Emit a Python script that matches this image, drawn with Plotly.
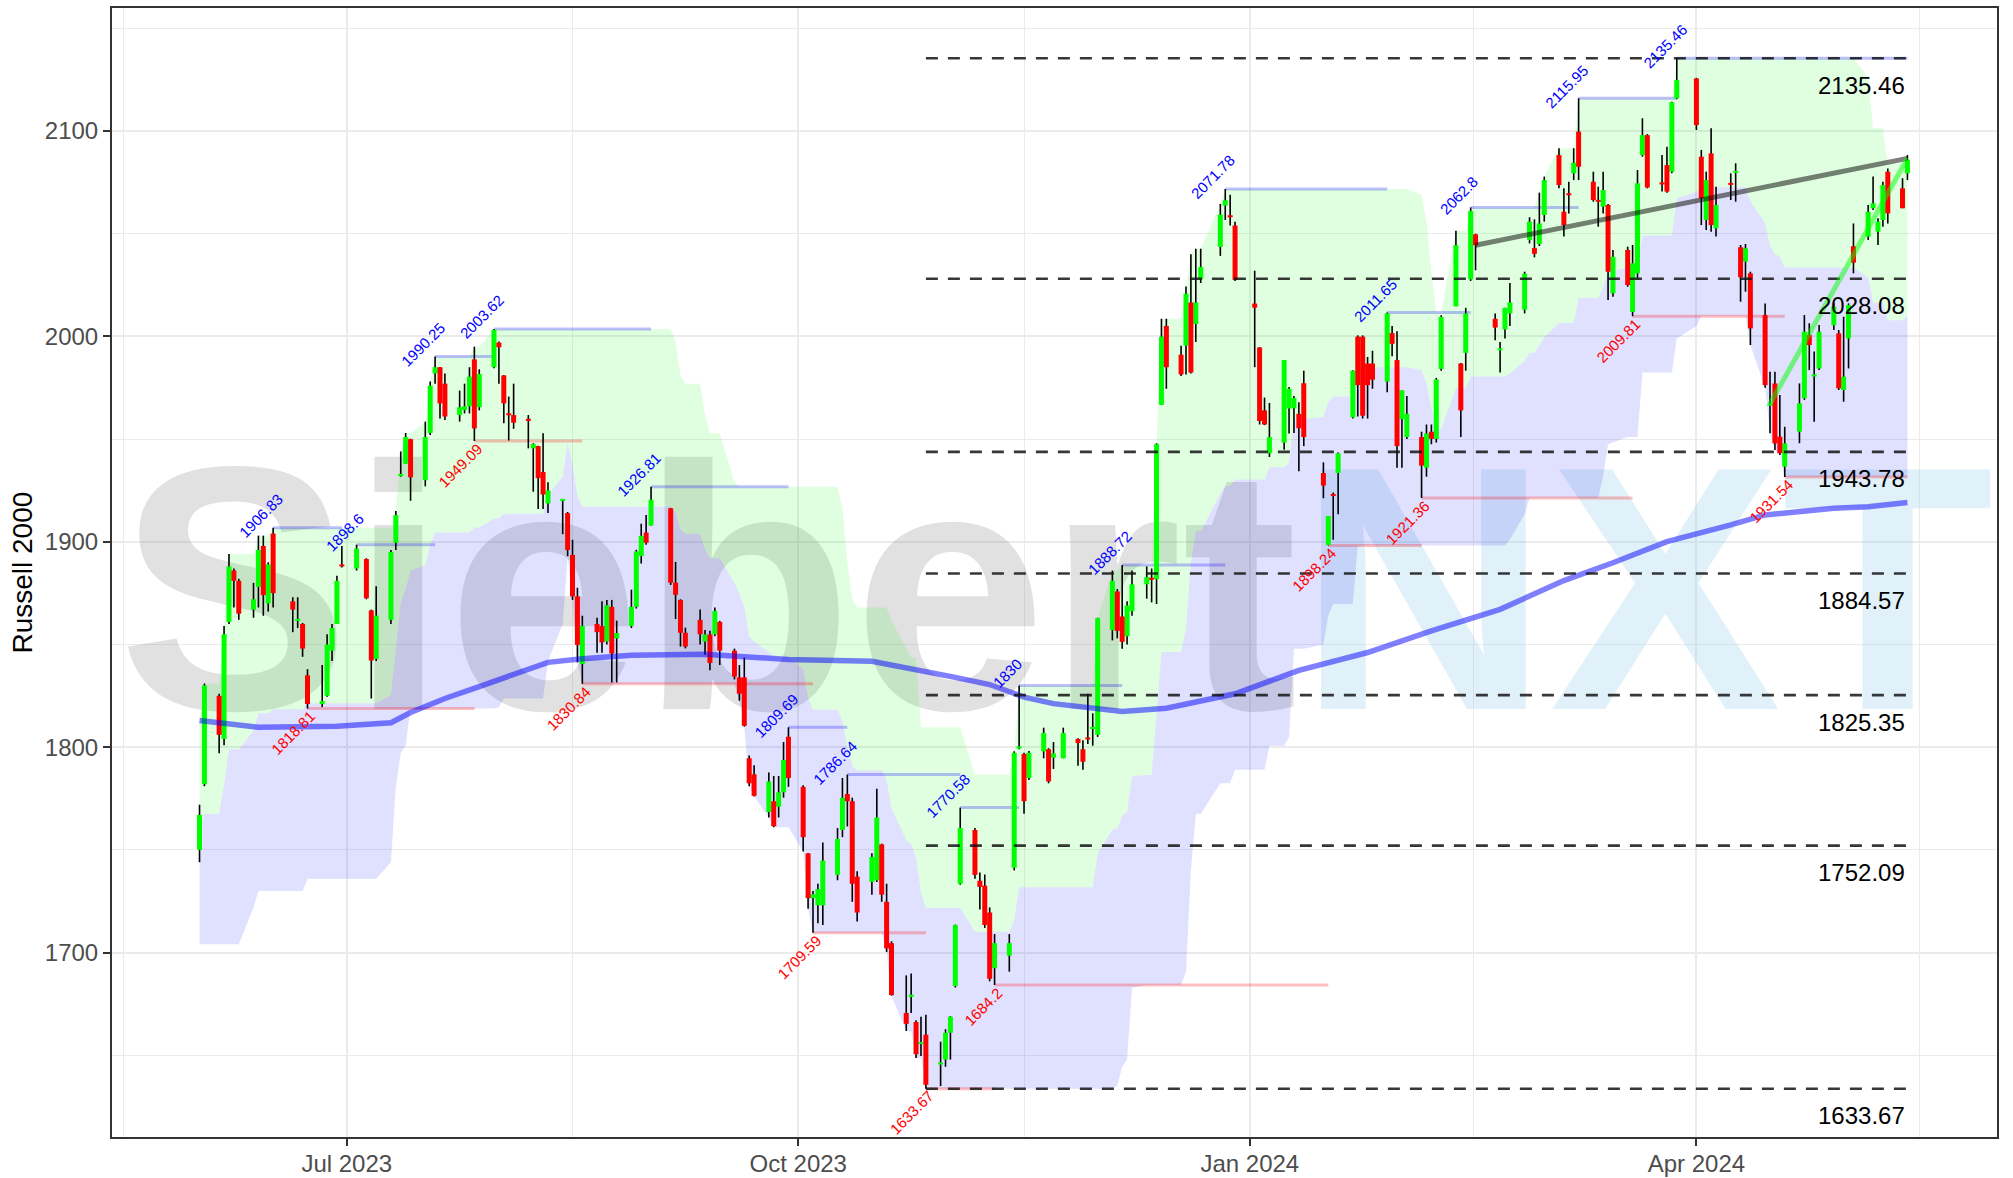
import math
import pandas as pd
import plotly.graph_objects as go

# ---------------- data ----------------
holidays = ["2023-05-29", "2023-06-19", "2023-07-04", "2023-09-04", "2023-11-23",
            "2023-12-25", "2024-01-01", "2024-01-15", "2024-02-19", "2024-03-29"]

def trading_days(a, b):
    return [d for d in pd.bdate_range(a, b) if d.strftime("%Y-%m-%d") not in holidays]

dates = trading_days("2023-06-01", "2024-05-14")
warm_dates = trading_days("2023-04-26", "2023-05-31")   # warm-up for the 26-day channel

# warm-up OHLC (not drawn, only feeds the rolling channel)
warm_open  = [1760, 1755, 1786, 1788, 1772, 1746, 1740, 1725, 1755, 1760, 1755, 1756, 1746,
              1745, 1765, 1740, 1762, 1770, 1772, 1775, 1752, 1752, 1755, 1775, 1755]
warm_high  = [1768, 1790, 1812, 1795, 1775, 1760, 1745, 1758, 1768, 1765, 1768, 1760, 1755,
              1770, 1767, 1765, 1775, 1780, 1785, 1778, 1760, 1762, 1778, 1778, 1760]
warm_low   = [1748, 1752, 1778, 1770, 1740, 1738, 1704, 1722, 1750, 1748, 1745, 1738, 1738,
              1742, 1730, 1738, 1755, 1762, 1765, 1752, 1740, 1742, 1752, 1750, 1736]
warm_close = [1752, 1786, 1790, 1775, 1745, 1742, 1720, 1755, 1762, 1752, 1758, 1745, 1742,
              1768, 1733, 1762, 1770, 1772, 1778, 1756, 1750, 1755, 1774, 1758, 1749]

opens = [
    # Jun 2023
    1750, 1782, 1825, 1804, 1861, 1886, 1881, 1867, 1878, 1898, 1870, 1904, 1871, 1861.5, 1860, 1835, 1821, 1825, 1847, 1860, 1889,
    # Jul
    1887, 1891.6, 1866.6, 1843, 1862, 1899.5, 1932, 1938, 1950, 1930, 1953, 1982, 1985, 1977, 1961.7, 1964.2, 1966, 1988.8, 1965.5, 1985,
    # Aug
    1997, 1981, 1962.5, 1961.7, 1959.5, 1945.5, 1946.6, 1934, 1918.7, 1920.2, 1914, 1893.6, 1873.4, 1840.5, 1860, 1859, 1851.4, 1868.3, 1853, 1859, 1868.3, 1893, 1904.5,
    # Sep
    1907.9, 1916.3, 1880.1, 1871.7, 1855.7, 1862, 1851.4, 1854.9, 1854.9, 1861, 1847, 1834, 1834, 1794.6, 1786.8, 1768.4, 1773.7, 1771, 1778, 1805.1,
    # Oct
    1780.7, 1748.3, 1726.5, 1723, 1723, 1737.8, 1759.7, 1777.2, 1773.7, 1737, 1734.4, 1735.2, 1752.7, 1724.7, 1704.6, 1670.6, 1678.4, 1666.2, 1655.6, 1660, 1645.5, 1647.9,
    # Nov
    1661, 1683.7, 1733.5, 1759.7, 1735, 1732.6, 1719.5, 1692.4, 1698.5, 1741.3, 1799.4, 1796.7, 1785, 1798, 1799, 1794.9, 1794.6, 1804, 1799, 1804.5, 1808.9,
    # Dec
    1806, 1857, 1875.8, 1863.6, 1854, 1866.2, 1879.3, 1882.5, 1881.9, 1966.7, 2005.1, 1991.1, 1995.5, 2016.5, 2006, 2027.8, 2043.6, 2063.7, 2059, 2054,
    # Jan 2024
    2016, 1994.6, 1964, 1943.1, 1948.3, 1964.9, 1965, 1962.3, 1977.2, 1933.5, 1898.5, 1923, 1933.5, 1960.6, 1999.9, 1999.9, 1986.8, 1986.8, 1978, 2001.6, 1988.5,
    # Feb
    1959.7, 1951, 1951, 1936.1, 1953.6, 1950.1, 1984.2, 2014.7, 1986.8, 1992, 2027.8, 2049.7, 2008.6, 1993.6, 2003.4, 2011.2, 2013, 2047, 2043, 2045,
    # Mar
    2059.1, 2088.3, 2060.7, 2069.6, 2079.4, 2099.7, 2075.3, 2066.4, 2063.2, 2064, 2021, 2042.1, 2011.9, 2030.7, 2088.3, 2098, 2075, 2083.4, 2080.2, 2115.9,
    # Apr
    2125.6, 2087.5, 2056.7, 2089.1, 2052.6, 2074.5, 2079.8, 2043.4, 2036.4, 2030.7, 2010.4, 1966.4, 1977.1, 1951.2, 1936.6, 1953.6, 1969.9, 2000.7, 1980.8, 1984.4, 2005.5, 2001.5,
    # May
    1973.9, 1999, 2043.9, 2048.6, 2062.4, 2051, 2056.7, 2080.2, 2072.1, 2079.4,
]
highs = [
    1772, 1831, 1826, 1859, 1894, 1887, 1882, 1880, 1903, 1903, 1890, 1906.83, 1873, 1873, 1860.5, 1838, 1840, 1855, 1860, 1883.5, 1898,
    1898.6, 1892, 1867, 1878.4, 1896, 1915, 1944, 1953, 1950.2, 1958.5, 1978, 1990.25, 1985.1, 1982, 1973.6, 1977, 1985, 1995, 1984, 2003.62,
    1997.5, 1981.2, 1970.7, 1977, 1961.7, 1948, 1946.8, 1952.8, 1929, 1920.8, 1914.5, 1901, 1877.6, 1864, 1863, 1871, 1871.7, 1871.7, 1861.6, 1876.7, 1896.1, 1908.8, 1913,
    1926.81, 1916.5, 1890.2, 1872, 1858.2, 1867, 1857, 1856.7, 1868, 1861.5, 1848, 1840, 1843.6, 1796, 1791.2, 1787.7, 1786, 1786, 1802.5, 1809.69,
    1781.5, 1748.5, 1730, 1733.5, 1753.6, 1760.6, 1785, 1786.64, 1775.4, 1739.6, 1748.3, 1779.8, 1753, 1733.5, 1705.5, 1688.9, 1689.8, 1667, 1668.8, 1669.7, 1656.6, 1662.7,
    1669, 1713.6, 1770.58, 1760.6, 1739, 1738, 1722, 1709, 1709, 1798, 1830, 1797.3, 1798.2, 1809.5, 1799.5, 1802.5, 1809.5, 1804.3, 1803.4, 1826, 1816.5,
    1863, 1886, 1877, 1888.72, 1871, 1886, 1888, 1887, 1948, 2008.6, 2008.6, 1995.5, 2024.3, 2040, 2042.7, 2042.7, 2064.5, 2071.78, 2069, 2055.8,
    2032, 1994.8, 1970.2, 1967.6, 1988.5, 1975.4, 1971, 1968, 1983.3, 1938.7, 1912.5, 1924, 1943.5, 1983.5, 2000.5, 2000.5, 1990, 1993, 2011.65, 2005.1, 2002.5,
    1973.7, 1971, 1953.6, 1957.1, 1957.1, 1979.8, 2010.3, 2051.4, 1987, 2013.9, 2062.8, 2050, 2011.2, 1997.3, 2014, 2026, 2031.5, 2058, 2057, 2070,
    2077.8, 2091.6, 2072.1, 2075.3, 2091.6, 2115.95, 2080.2, 2072.9, 2080.2, 2064.5, 2042.1, 2043.7, 2044.5, 2081, 2106.2, 2098.5, 2088.3, 2092.4, 2114.3, 2135.46,
    2125.9, 2090.8, 2080.2, 2101.3, 2072.9, 2079.4, 2084.3, 2044.5, 2045, 2031.5, 2016, 1982.8, 1982.8, 1971.5, 1956, 1977.1, 2010.4, 2006.4, 1992.6, 2005.5, 2016.1, 2003.1,
    2009.6, 2016.1, 2055, 2064, 2077.8, 2057.5, 2075.3, 2081.8, 2077, 2088.3,
]
lows = [
    1744, 1781, 1797, 1801, 1860, 1868, 1862, 1863, 1868, 1864, 1866, 1868, 1856, 1858, 1844, 1818.81, 1819.5, 1824.5, 1842, 1860, 1887.5,
    1886, 1872, 1823.7, 1842, 1860, 1896, 1931.7, 1938, 1920, 1927, 1952, 1977, 1960, 1959.3, 1958.5, 1962.5, 1962.5, 1949.09, 1964, 1984.5,
    1977, 1957.7, 1949.3, 1955, 1945.5, 1924.4, 1916, 1916, 1914, 1903.7, 1893, 1871.7, 1841.3, 1830.84, 1846, 1846, 1850, 1831.5, 1831.5, 1858, 1867.5, 1889.4, 1898.6,
    1907.9, 1879, 1862.4, 1849, 1848.1, 1850, 1845, 1837.5, 1854, 1840, 1833, 1822.6, 1810, 1781, 1776, 1765.8, 1761, 1765.8, 1775.4, 1780.7,
    1749.2, 1721.3, 1709.59, 1714.3, 1713.4, 1735.2, 1756.2, 1761.4, 1724.7, 1715.1, 1728.2, 1734.4, 1724.7, 1700.3, 1679, 1661.8, 1670.6, 1648.7, 1649.6, 1633.67, 1635, 1644.4,
    1647.9, 1683, 1733, 1736, 1721, 1712, 1686, 1684.2, 1690.7, 1740, 1799, 1767.6, 1784, 1794.6, 1782.4, 1789.4, 1794.6, 1791, 1789, 1801.6, 1800.7,
    1805, 1852, 1853, 1847.9, 1850, 1864, 1872.3, 1870.5, 1869.7, 1966.7, 1974.5, 1980.7, 1981.5, 1982, 1997.3, 2026, 2039.2, 2056.7, 2054, 2027,
    1985, 1957.1, 1956.8, 1941.3, 1944.8, 1952.7, 1953, 1934.4, 1946.6, 1921.2, 1898.24, 1901, 1913.4, 1960, 1961, 1960, 1960, 1974.5, 1972.8, 1990.3, 1936.1,
    1936, 1950, 1921.36, 1931.7, 1947.5, 1948.3, 1983.3, 2014.7, 1951, 1983.3, 2027, 2032.2, 1998.1, 1982.4, 1999, 2005.1, 2011.2, 2045.3, 2038.5, 2044,
    2055.9, 2072.1, 2048.6, 2059.9, 2076.1, 2076.1, 2065.6, 2053.4, 2059.9, 2017.7, 2019.3, 2024.2, 2009.81, 2028.3, 2087.5, 2072.1, 2070.5, 2070, 2079.4, 2115.5,
    2100.5, 2054.2, 2051.8, 2051, 2048.6, 2066.4, 2065.6, 2016.9, 2021.8, 1995.8, 1975, 1952.8, 1944.7, 1942.3, 1931.54, 1948, 1969.1, 1983.6, 1958.5, 1983.6, 2003.1, 1973.9,
    1968.2, 1984.4, 2030.7, 2047, 2061.5, 2044.5, 2053.4, 2055, 2062.4, 2076.1,
]
closes = [
    1767, 1830, 1806, 1855, 1888, 1881, 1865, 1872, 1896, 1874, 1889, 1875, 1867, 1862.5, 1848, 1821, 1822.5, 1850, 1858, 1881, 1888,
    1896.6, 1872.5, 1842.2, 1864, 1895, 1913, 1933, 1951, 1931.4, 1951, 1976, 1985, 1967.4, 1961, 1965.5, 1966, 1980.4, 1955.2, 1981.7, 2003.2,
    1994.7, 1967.4, 1961.7, 1958, 1959.3, 1947.6, 1931, 1923, 1925, 1920.6, 1896, 1873.4, 1849.8, 1859, 1856, 1851, 1869.1, 1845.6, 1855.6, 1868.3, 1895.3, 1902.9, 1899.5,
    1920.5, 1880.1, 1874.2, 1855.7, 1849, 1855, 1854.9, 1841, 1866.3, 1847, 1834.4, 1826, 1810.4, 1782.4, 1776.3, 1783.3, 1761.5, 1778, 1793.8, 1785,
    1756.2, 1726.5, 1728.4, 1730.9, 1744.8, 1755.3, 1775.4, 1773.7, 1733.5, 1719.5, 1746.6, 1765.8, 1728.2, 1702, 1679.3, 1665.3, 1679.5, 1650.5, 1656.2, 1635.6, 1646.5, 1661,
    1668.8, 1713.4, 1760.6, 1737.8, 1732, 1713.4, 1687.2, 1704.6, 1704.6, 1797.3, 1800.3, 1773.7, 1797.3, 1806.9, 1783.3, 1797, 1806.9, 1802, 1792.9, 1804, 1809.8,
    1862.8, 1881, 1856.6, 1851.3, 1869, 1879.3, 1882.8, 1881.5, 1947.5, 1999.9, 1985, 1981.5, 2020.8, 1982.4, 2016.5, 2033.8, 2059.3, 2066.3, 2058, 2027.5,
    2014, 1958.8, 1957.1, 1951, 1988.5, 1974.5, 1970, 1955.3, 1951, 1927.4, 1912.5, 1922.6, 1943.1, 1983.3, 1976.3, 1961.4, 1976.3, 1978.9, 2011.2, 1996.4, 1946.6,
    1973.7, 1962.3, 1937.1, 1952.7, 1950.1, 1979, 2009.5, 2044.4, 1964, 2011.2, 2061, 2044.4, 2004.3, 1993.8, 2013.9, 2016.5, 2030.5, 2055.8, 2040.2, 2055,
    2076.1, 2073.7, 2054.2, 2068.8, 2084.6, 2082.6, 2066.4, 2065.6, 2071.3, 2031.5, 2038.8, 2025, 2035.6, 2074.5, 2098, 2072.5, 2074, 2070.5, 2114, 2124.8,
    2102.9, 2067.2, 2076.1, 2054.2, 2064, 2074, 2080.5, 2028.8, 2042.9, 2003.9, 1976.3, 1967.2, 1947.9, 1943.1, 1947.9, 1967.4, 2002.3, 1995.8, 1981.2, 2002.3, 2014.5, 1974.7,
    1980.4, 2015.3, 2035.9, 2060.7, 2064.8, 2055.9, 2073.7, 2059.9, 2062.4, 2085.9,
]

# 200-day moving average
sma_dates = ["2023-06-01", "2023-06-13", "2023-06-29", "2023-07-10", "2023-07-14", "2023-07-21", "2023-07-28",
             "2023-08-04", "2023-08-11", "2023-08-18", "2023-08-28", "2023-09-12", "2023-09-29", "2023-10-16",
             "2023-10-26", "2023-11-02", "2023-11-09", "2023-11-16", "2023-11-22", "2023-11-30", "2023-12-06",
             "2023-12-15", "2023-12-29", "2024-01-11", "2024-01-25", "2024-02-07", "2024-02-21", "2024-03-05",
             "2024-03-15", "2024-03-26", "2024-04-02", "2024-04-08", "2024-04-15", "2024-04-22", "2024-04-29",
             "2024-05-06", "2024-05-14"]
sma_values = [1813.0, 1809.7, 1810.2, 1811.9, 1816.9, 1823.7, 1829.5, 1835.4, 1841.3, 1843.0, 1844.7, 1845.3,
              1842.7, 1841.8, 1837.5, 1834.0, 1830.5, 1824.4, 1821.2, 1819.1, 1817.4, 1819.0, 1826.0, 1837.4,
              1846.1, 1856.6, 1867.1, 1881.1, 1889.8, 1900.1, 1904.1, 1908.2, 1913.1, 1914.7, 1916.3, 1917.1, 1919.1]

# swing highs / lows: date, value, end of the marker line
swing_high_dates = ["2023-06-16", "2023-07-03", "2023-07-19", "2023-07-31", "2023-09-01", "2023-09-29", "2023-10-11",
                    "2023-11-03", "2023-11-15", "2023-12-06", "2023-12-27", "2024-01-29", "2024-02-15", "2024-03-08",
                    "2024-03-28"]
swing_high_values = [1906.83, 1898.6, 1990.25, 2003.62, 1926.81, 1809.69, 1786.64, 1770.58, 1830, 1888.72,
                     2071.78, 2011.65, 2062.8, 2115.95, 2135.46]
swing_high_ends = ["2023-06-30", "2023-07-19", "2023-07-31", "2023-09-01", "2023-09-29", "2023-10-11", "2023-11-03",
                   "2023-11-15", "2023-12-06", "2023-12-27", "2024-01-29", "2024-02-15", "2024-03-08", "2024-03-28",
                   "2024-05-14"]
swing_low_dates = ["2023-06-23", "2023-07-27", "2023-08-18", "2023-10-04", "2023-10-27", "2023-11-10", "2024-01-17",
                   "2024-02-05", "2024-03-19", "2024-04-19"]
swing_low_values = [1818.81, 1949.09, 1830.84, 1709.59, 1633.67, 1684.2, 1898.24, 1921.36, 2009.81, 1931.54]
swing_low_ends = ["2023-07-27", "2023-08-18", "2023-10-04", "2023-10-27", "2023-11-10", "2024-01-17", "2024-02-05",
                  "2024-03-19", "2024-04-19", "2024-05-14"]

# Fibonacci retracement levels (from the Oct-27 low)
fib_levels = [2135.46, 2028.08, 1943.78, 1884.57, 1825.35, 1752.09, 1633.67]
fib_start = "2023-10-27"
fib_end = "2024-05-14"

# trend lines
trend_gray_dates = ["2024-02-16", "2024-05-14"]
trend_gray_values = [2044.4, 2086.7]
trend_green_dates = ["2024-04-16", "2024-05-14"]
trend_green_values = [1967.2, 2086.7]

x_ticks = ["2023-07-01", "2023-10-01", "2024-01-01", "2024-04-01"]
x_tick_text = ["Jul 2023", "Oct 2023", "Jan 2024", "Apr 2024"]
x_minor = ["2023-05-16 12:00", "2023-08-16", "2023-11-16", "2024-02-15 12:00", "2024-05-16 12:00"]
y_ticks = [1700, 1800, 1900, 2000, 2100]
y_minor = [1650, 1750, 1850, 1950, 2050, 2150]

# ---------------- derived channel (26-day high/low) ----------------
all_df = pd.DataFrame({
    "high": warm_high + highs,
    "low": warm_low + lows,
}, index=list(warm_dates) + list(dates))
N = 26
upper = all_df["high"].rolling(N).max()
lower = all_df["low"].rolling(N).min()
mid = (upper + lower) / 2
upper, lower, mid = upper.loc[dates], lower.loc[dates], mid.loc[dates]

FONT = "Liberation Sans, Arial, Helvetica, sans-serif"
fig = go.Figure()

# watermark
fig.add_trace(go.Scatter(
    x=["2023-11-22 12:00"], y=[1861], mode="text",
    text=["<span style='color:rgba(120,120,120,0.22)'>Siebert</span>"
          "<span style='color:rgba(135,200,230,0.25)'>NXT</span>"],
    textposition="middle center",
    textfont=dict(family=FONT, size=348, weight="bold"),
    cliponaxis=True, hoverinfo="skip", showlegend=False))

# channel ribbons
fig.add_trace(go.Scatter(x=dates, y=upper, mode="lines", line=dict(width=0), hoverinfo="skip", showlegend=False))
fig.add_trace(go.Scatter(x=dates, y=mid, mode="lines", line=dict(width=0), fill="tonexty",
                         fillcolor="rgba(0,255,0,0.12)", hoverinfo="skip", showlegend=False))
fig.add_trace(go.Scatter(x=dates, y=lower, mode="lines", line=dict(width=0), fill="tonexty",
                         fillcolor="rgba(0,0,255,0.12)", hoverinfo="skip", showlegend=False))

# swing marker lines
def seg_lines(starts, ends, vals):
    xs, ys = [], []
    for s, e, v in zip(starts, ends, vals):
        xs += [s, e, None]
        ys += [v, v, None]
    return xs, ys

xs, ys = seg_lines(swing_high_dates, swing_high_ends, swing_high_values)
fig.add_trace(go.Scatter(x=xs, y=ys, mode="lines", line=dict(color="rgba(0,0,255,0.25)", width=3),
                         hoverinfo="skip", showlegend=False))
xs, ys = seg_lines(swing_low_dates, swing_low_ends, swing_low_values)
fig.add_trace(go.Scatter(x=xs, y=ys, mode="lines", line=dict(color="rgba(255,0,0,0.25)", width=3),
                         hoverinfo="skip", showlegend=False))

# candles: wicks then bodies
wx, wy = [], []
gx, gy, rx, ry = [], [], [], []
for d, o, h, l, c in zip(dates, opens, highs, lows, closes):
    wx += [d, d, None]
    wy += [l, h, None]
    lo_b, hi_b = min(o, c), max(o, c)
    if hi_b - lo_b < 1.0:
        m = (hi_b + lo_b) / 2
        lo_b, hi_b = m - 0.5, m + 0.5
    if c >= o:
        gx += [d, d, None]; gy += [lo_b, hi_b, None]
    else:
        rx += [d, d, None]; ry += [lo_b, hi_b, None]
fig.add_trace(go.Scatter(x=wx, y=wy, mode="lines", line=dict(color="black", width=1.6),
                         hoverinfo="skip", showlegend=False))
fig.add_trace(go.Scatter(x=gx, y=gy, mode="lines", line=dict(color="#00FF00", width=5),
                         hoverinfo="skip", showlegend=False))
fig.add_trace(go.Scatter(x=rx, y=ry, mode="lines", line=dict(color="#FF0000", width=5),
                         hoverinfo="skip", showlegend=False))

# moving average
fig.add_trace(go.Scatter(x=sma_dates, y=sma_values, mode="lines",
                         line=dict(color="rgba(0,0,255,0.5)", width=5.5), hoverinfo="skip", showlegend=False))

# fib dashed lines
fx, fy = [], []
for v in fib_levels:
    fx += [fib_start, fib_end, None]
    fy += [v, v, None]
fig.add_trace(go.Scatter(x=fx, y=fy, mode="lines", line=dict(color="rgba(20,20,20,0.85)", width=2.6, dash="12px,10px"),
                         hoverinfo="skip", showlegend=False))

# trend lines
fig.add_trace(go.Scatter(x=trend_gray_dates, y=trend_gray_values, mode="lines",
                         line=dict(color="rgba(0,0,0,0.5)", width=5), hoverinfo="skip", showlegend=False))
fig.add_trace(go.Scatter(x=trend_green_dates, y=trend_green_values, mode="lines",
                         line=dict(color="rgba(0,255,0,0.5)", width=5), hoverinfo="skip", showlegend=False))

annotations = []
# fib labels
for v in fib_levels:
    annotations.append(dict(x=fib_end, y=v, xref="x", yref="y", text=f"{v:.2f}", showarrow=False,
                            xanchor="right", yanchor="middle", yshift=-27,
                            font=dict(family=FONT, size=24, color="black")))

def text_len(s, size=15):
    return sum((0.278 if ch == "." else 0.556) * size for ch in s)

for d, v in zip(swing_high_dates, swing_high_values):
    annotations.append(dict(x=d, y=v, xref="x", yref="y", text=f"{v:g}", showarrow=False, textangle=-45,
                            xanchor="center", yanchor="middle", xshift=-12, yshift=12,
                            font=dict(family=FONT, size=15, color="blue")))
for d, v in zip(swing_low_dates, swing_low_values):
    t = f"{v:g}"
    a = text_len(t) / (2 * math.sqrt(2))
    annotations.append(dict(x=d, y=v, xref="x", yref="y", text=t, showarrow=False, textangle=-45,
                            xanchor="center", yanchor="middle", xshift=-a + 5, yshift=-(a + 5),
                            font=dict(family=FONT, size=15, color="red")))

annotations.append(dict(x=-0.0477, y=0.5, xref="paper", yref="paper", text="Russell 2000", showarrow=False,
                        textangle=-90, xanchor="center", yanchor="middle",
                        font=dict(family=FONT, size=28, color="black")))

fig.update_layout(
    width=2013, height=1178,
    margin=dict(l=112, r=16, t=8, b=41),
    plot_bgcolor="white", paper_bgcolor="white",
    showlegend=False,
    font=dict(family=FONT, color="#4D4D4D"),
    annotations=annotations,
)
fig.update_xaxes(
    type="date", range=["2023-05-14 04:00", "2024-06-01 06:00"],
    tickvals=x_ticks, ticktext=x_tick_text,
    ticks="outside", ticklen=7, tickwidth=2, tickcolor="#333333",
    tickfont=dict(family=FONT, size=24, color="#4D4D4D"),
    ticklabelstandoff=-3,
    showgrid=True, gridcolor="#EBEBEB", gridwidth=2.2,
    showline=True, linecolor="#333333", linewidth=2, mirror=True, zeroline=False,
    automargin=False,
    minor=dict(tickvals=x_minor, showgrid=True, gridcolor="#EBEBEB", gridwidth=1.1, ticks=""),
)
fig.update_yaxes(
    range=[1610.2, 2159.9],
    tickvals=y_ticks,
    ticks="outside", ticklen=7, tickwidth=2, tickcolor="#333333",
    tickfont=dict(family=FONT, size=24, color="#4D4D4D"),
    showgrid=True, gridcolor="#EBEBEB", gridwidth=2.2,
    showline=True, linecolor="#333333", linewidth=2, mirror=True, zeroline=False,
    automargin=False,
    minor=dict(tickvals=y_minor, showgrid=True, gridcolor="#EBEBEB", gridwidth=1.1, ticks=""),
)

fig.write_html("out.html",
               config={"displayModeBar": False},
               post_script="document.body.style.margin='0px';document.body.style.padding='0px';"
                           "document.body.style.overflow='hidden';")
